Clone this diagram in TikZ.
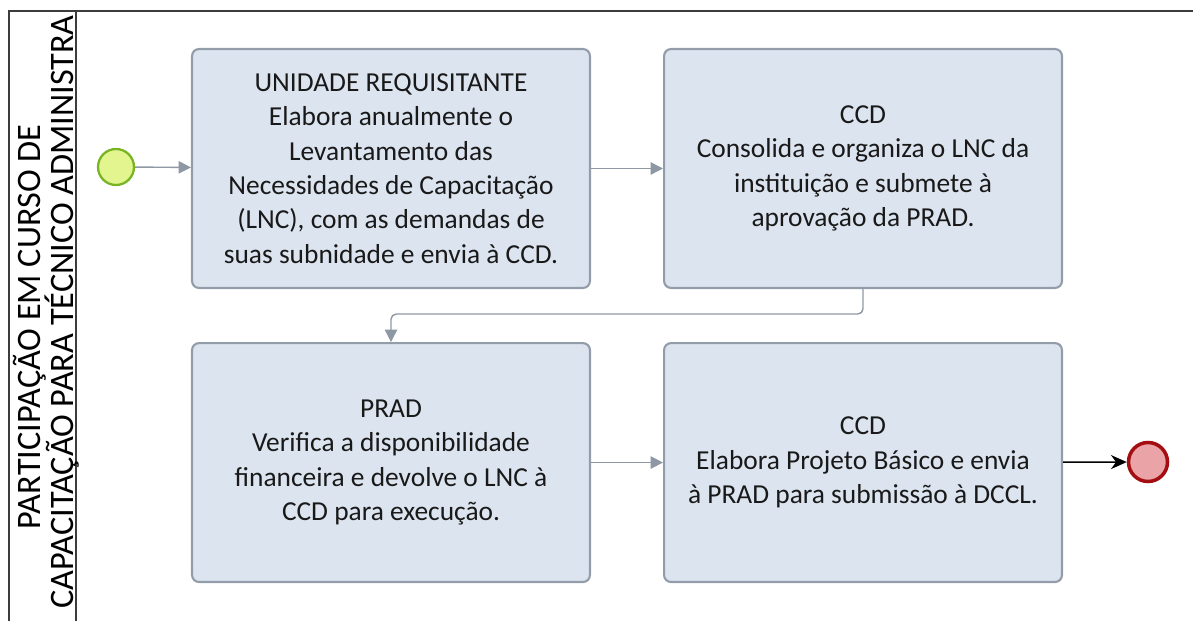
\documentclass[tikz,border=0pt]{standalone}
\usepackage{fontspec}
\setmainfont{Carlito}
\usepackage{tikz}
\usetikzlibrary{positioning, arrows.meta}

\definecolor{taskfill}{HTML}{DCE4EF}
\definecolor{taskdraw}{HTML}{939DAA}
\definecolor{flowgray}{HTML}{8E98A5}
\definecolor{startfill}{HTML}{E2F58E}
\definecolor{startdraw}{HTML}{78B424}
\definecolor{endfill}{HTML}{EAA3A6}
\definecolor{enddraw}{HTML}{A40E12}
\definecolor{lanedraw}{HTML}{3C3C3C}

\begin{document}
\begin{tikzpicture}[x=0.02cm, y=-0.02cm, node distance=1.06cm and 1.44cm,
  task/.style={draw=taskdraw, line width=1.2pt, fill=taskfill, rounded corners=4pt, minimum width=7.96cm, minimum height=4.78cm, align=center, font=\fontsize{15.6}{19.6}\selectfont, text=black!90},
  startev/.style={circle, draw=startdraw, line width=1.3pt, fill=startfill, minimum size=0.72cm, inner sep=0pt},
  endev/.style={circle, draw=enddraw, line width=2pt, fill=endfill, minimum size=0.78cm, inner sep=0pt},
  lanetext/.style={rotate=90, font=\fontsize{19.5}{24}\selectfont, inner sep=0pt},
  flow/.style={->, draw=flowgray, line width=0.8pt, >={Triangle[length=7pt, width=7pt]}},
  endflow/.style={->, draw=black, line width=0.9pt, >={Stealth[length=9pt, width=8pt]}}]

  \useasboundingbox (0,0) rectangle (1193,621);

  % pool / lane
  \draw[lanedraw, line width=1.1pt] (1193,11) -- (9,11) -- (9,621);
  \draw[lanedraw, line width=1.1pt] (76,11) -- (76,621);
  \node[lanetext] (lane1) at (30,327) {PARTICIPAÇÃO EM CURSO DE};
  \node[lanetext, anchor=east] (lane2) at (62,15) {CAPACITAÇÃO PARA TÉCNICO ADMINISTRA};

  % tasks
  \node[task] (unidade) at (391,168.5) {UNIDADE REQUISITANTE\\Elabora anualmente o\\Levantamento das\\Necessidades de Capacitação\\(LNC), com as demandas de\\suas subnidade e envia à CCD.};
  \node[task, right=of unidade] (consolida) {CCD\\Consolida e organiza o LNC da\\instituição e submete à\\aprovação da PRAD.};
  \node[task, below=of unidade] (prad) {PRAD\\Verifica a disponibilidade\\financeira e devolve o LNC à\\CCD para execução.};
  \node[task, right=of prad] (projeto) {CCD\\Elabora Projeto Básico e envia\\à PRAD para submissão à DCCL.};

  % events
  \node[startev] (start) at (116,167) {};
  \node[endev] (end) at (1148,462) {};

  % flows
  \draw[flow] (start) -- (unidade);
  \draw[flow] (unidade) -- (consolida);
  \draw[flow, rounded corners=3pt] (consolida.south) -- ++(0,25) -| (prad.north);
  \draw[flow] (prad) -- (projeto);
  \draw[endflow] (projeto) -- (end);

\end{tikzpicture}
\end{document}
